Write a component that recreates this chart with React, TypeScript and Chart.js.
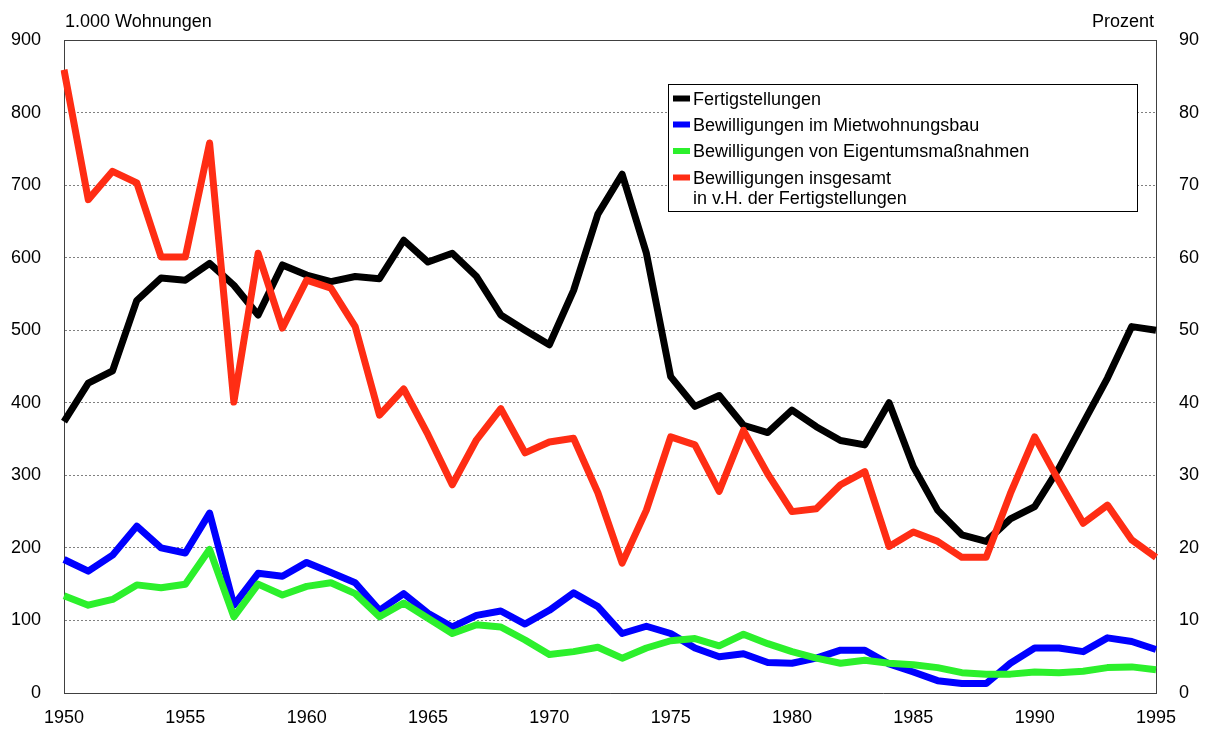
import { useEffect, useRef } from "react";
import { Chart, registerables } from "chart.js";

Chart.register(...registerables);

const years = [
  "1950", "1951", "1952", "1953", "1954", "1955", "1956", "1957", "1958", "1959",
  "1960", "1961", "1962", "1963", "1964", "1965", "1966", "1967", "1968", "1969",
  "1970", "1971", "1972", "1973", "1974", "1975", "1976", "1977", "1978", "1979",
  "1980", "1981", "1982", "1983", "1984", "1985", "1986", "1987", "1988", "1989",
  "1990", "1991", "1992", "1993", "1994", "1995",
];

// 1.000 Wohnungen (left axis)
const fertigstellungen = [
  374, 427, 444, 541, 572, 569, 592, 562, 521, 590,
  576, 567, 574, 571, 624, 594, 606, 574, 521, 500,
  480, 555, 660, 715, 606, 436, 395, 410, 369, 359,
  390, 367, 348, 342, 400, 312, 252, 218, 209, 240,
  257, 310, 372, 434, 505, 500,
];

const mietwohnungsbau = [
  184, 168, 190, 230, 200, 193, 248, 121, 165, 161,
  180, 166, 152, 114, 137, 110, 91, 107, 113, 95,
  114, 138, 119, 82, 92, 82, 62, 50, 54, 42,
  41, 48, 59, 59, 40, 29, 17, 13, 13, 41,
  62, 62, 57, 76, 71, 60,
];

const eigentumsmassnahmen = [
  134, 121, 129, 149, 145, 150, 198, 105, 150, 135,
  147, 152, 137, 105, 124, 103, 82, 94, 91, 73,
  53, 57, 63, 48, 62, 72, 75, 65, 81, 68,
  57, 48, 41, 45, 41, 39, 35, 28, 26, 26,
  29, 28, 30, 35, 36, 32,
];

// Prozent (right axis)
const insgesamtProzent = [
  85.9, 68.0, 71.9, 70.3, 60.1, 60.1, 75.8, 40.1, 60.6, 50.3,
  56.9, 55.8, 50.5, 38.3, 41.9, 35.6, 28.7, 34.9, 39.2, 33.1,
  34.6, 35.1, 27.6, 17.9, 25.2, 35.3, 34.2, 27.8, 36.2, 30.2,
  25.0, 25.4, 28.7, 30.5, 20.2, 22.2, 20.9, 18.7, 18.7, 27.5,
  35.3, 29.2, 23.4, 25.9, 21.1, 18.7,
];

const leftTitle = "1.000 Wohnungen";
const rightTitle = "Prozent";

const seriesLabels = [
  "Fertigstellungen",
  "Bewilligungen im Mietwohnungsbau",
  "Bewilligungen von Eigentumsmaßnahmen",
  "Bewilligungen insgesamt\nin v.H. der Fertigstellungen",
];

const seriesColors = ["#000000", "#0000FF", "#2CF02C", "#FF2D14"];

const FONT = '"Liberation Sans", Arial, Helvetica, sans-serif';

const overlayPlugin = {
  id: "overlay",
  afterDraw(chart: any) {
    const ctx = chart.ctx as CanvasRenderingContext2D;
    const a = chart.chartArea;
    ctx.save();
    ctx.setLineDash([]);
    // top frame line
    ctx.strokeStyle = "#404040";
    ctx.lineWidth = 1;
    ctx.beginPath();
    ctx.moveTo(a.left, Math.round(a.top) + 0.5);
    ctx.lineTo(a.right, Math.round(a.top) + 0.5);
    ctx.stroke();

    // axis titles
    ctx.font = `18px ${FONT}`;
    ctx.fillStyle = "#000";
    ctx.textBaseline = "alphabetic";
    ctx.textAlign = "left";
    ctx.fillText(leftTitle, a.left + 1, 26.5);
    ctx.textAlign = "right";
    ctx.fillText(rightTitle, a.right - 2, 26.5);

    // legend
    const bx = 668.5, by = 84.5, bw = 469, bh = 127;
    ctx.fillStyle = "#ffffff";
    ctx.fillRect(bx, by, bw, bh);
    ctx.strokeStyle = "#000000";
    ctx.lineWidth = 1;
    ctx.strokeRect(bx, by, bw, bh);
    ctx.textAlign = "left";
    const rowCenters = [98.5, 124.5, 151, 177.5];
    chart.data.datasets.forEach((ds: any, i: number) => {
      const cy = rowCenters[i];
      ctx.fillStyle = ds.borderColor;
      ctx.fillRect(673, cy - 3, 17, 6);
      ctx.fillStyle = "#000";
      const lines = String(ds.label).split("\n");
      lines.forEach((ln: string, j: number) => {
        ctx.fillText(ln, 693, cy + 6.3 + j * 20);
      });
    });
    ctx.restore();
  },
};

export default function App() {
  const canvasRef = useRef<HTMLCanvasElement | null>(null);

  useEffect(() => {
    if (!canvasRef.current) return;
    Chart.defaults.font.family = FONT;
    Chart.defaults.color = "#000";

    const mk = (i: number, data: number[], axis: string, order: number) => ({
      label: seriesLabels[i],
      data,
      yAxisID: axis,
      borderColor: seriesColors[i],
      backgroundColor: seriesColors[i],
      borderWidth: 7,
      pointRadius: 0,
      pointHoverRadius: 0,
      tension: 0,
      fill: false,
      borderJoinStyle: "round" as const,
      borderCapStyle: "butt" as const,
      order,
    });

    const chart = new Chart(canvasRef.current, {
      type: "line",
      data: {
        labels: years,
        datasets: [
          mk(0, fertigstellungen, "y", 3),
          mk(1, mietwohnungsbau, "y", 2),
          mk(2, eigentumsmassnahmen, "y", 1),
          mk(3, insgesamtProzent, "y1", 0),
        ],
      },
      options: {
        animation: false,
        responsive: true,
        maintainAspectRatio: false,
        layout: { padding: { top: 40, left: 0, right: 0, bottom: 0 } },
        plugins: {
          legend: { display: false },
          tooltip: { enabled: false },
          title: { display: false },
        },
        scales: {
          x: {
            type: "category",
            offset: false,
            grid: { display: false, drawTicks: false },
            border: { display: true, color: "#404040", width: 1 },
            ticks: {
              autoSkip: false,
              maxRotation: 0,
              padding: 14,
              font: { size: 18 },
              callback: (_v: any, idx: number) =>
                Number(years[idx]) % 5 === 0 ? years[idx] : null,
            },
            afterFit: (s: any) => {
              s.height = 36;
            },
          },
          y: {
            position: "left",
            min: 0,
            max: 900,
            grid: {
              color: "#808080",
              lineWidth: 1,
              drawTicks: false,
              borderDash: [2, 2],
            } as any,
            border: { display: true, color: "#404040", width: 1, dash: [2, 2] },
            ticks: { stepSize: 100, padding: 23, font: { size: 18 } },
            afterFit: (s: any) => {
              s.width = 64;
            },
          },
          y1: {
            position: "right",
            min: 0,
            max: 90,
            grid: { display: false, drawTicks: false },
            border: { display: true, color: "#404040", width: 1 },
            ticks: { stepSize: 10, padding: 23, font: { size: 18 } },
            afterFit: (s: any) => {
              s.width = 51;
            },
          },
        },
      },
      plugins: [overlayPlugin],
    });

    return () => chart.destroy();
  }, []);

  return (
    <div style={{ position: "absolute", left: 0, top: 0, width: 1207, height: 729 }}>
      <canvas ref={canvasRef} />
    </div>
  );
}
